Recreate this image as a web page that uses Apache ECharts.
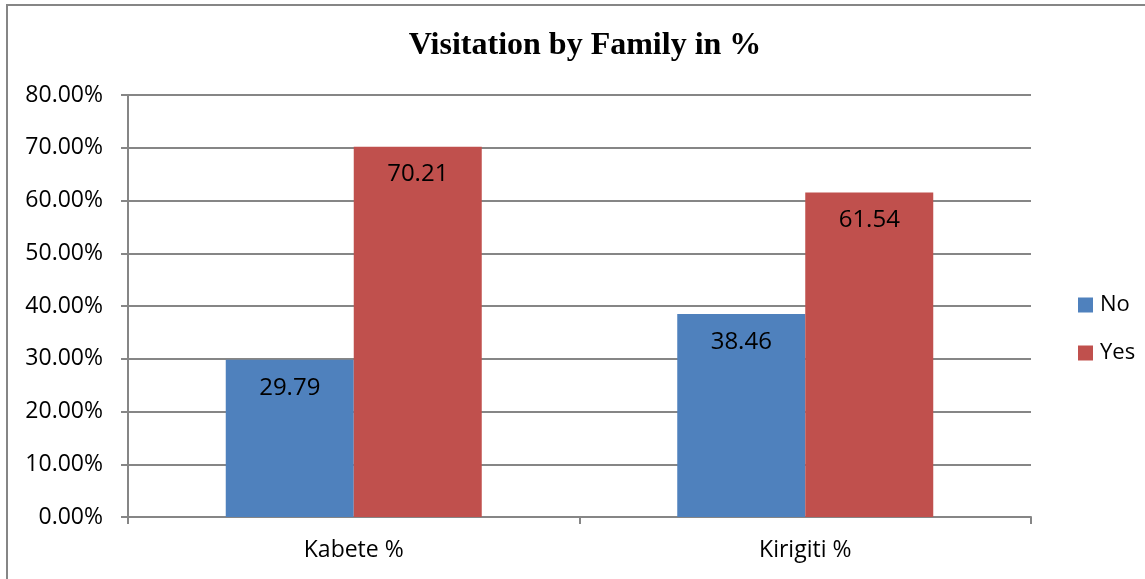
<!DOCTYPE html>
<html>
<head>
<meta charset="utf-8">
<script src="https://cdn.jsdelivr.net/npm/echarts@6/dist/echarts.min.js"></script>
<style>
  html, body { margin: 0; padding: 0; background: #fff; }
  #frame {
    position: absolute; left: 6px; top: 4px;
    width: 1160px; height: 590px;
    border: 2px solid #868686; box-sizing: border-box;
  }
  #chart { position: absolute; left: 0; top: 0; width: 1145px; height: 579px; }
</style>
</head>
<body>
<div id="frame"></div>
<div id="chart"></div>
<script>
const categories = ['Kabete %', 'Kirigiti %']
const noValues = [29.79, 38.46]
const yesValues = [70.21, 61.54]
const seriesNames = ['No', 'Yes']

const chart = echarts.init(document.getElementById('chart'))
const labelStyle = {
  show: true,
  position: 'insideTop',
  distance: 16,
  color: '#000',
  fontSize: 24,
  fontFamily: 'Open Sans',
  formatter: p => p.value.toFixed(2),
}

chart.setOption({
  animation: false,
  title: {
    text: 'Visitation by Family in %',
    left: 580,
    top: 25,
    textAlign: 'center',
    textStyle: { fontFamily: 'Liberation Serif', fontWeight: 'bold', fontSize: 32, color: '#000' },
  },
  legend: {
    orient: 'vertical',
    left: 1073,
    top: 289,
    itemWidth: 15,
    itemHeight: 15,
    itemGap: 26,
    icon: 'rect',
    textStyle: { fontFamily: 'Open Sans', fontSize: 22, color: '#000', padding: [0, 0, 0, 2] },
    data: seriesNames,
  },
  grid: { left: 128, right: 114, top: 95, bottom: 62 },
  xAxis: {
    type: 'category',
    data: categories,
    axisLine: { lineStyle: { color: '#868686', width: 2 } },
    axisTick: { show: true, length: 7, lineStyle: { color: '#868686', width: 2 } },
    axisLabel: { color: '#000', fontSize: 23, fontFamily: 'Open Sans', margin: 22 },
  },
  yAxis: {
    type: 'value',
    min: 0,
    max: 80,
    interval: 10,
    axisLine: { show: true, lineStyle: { color: '#868686', width: 2 } },
    axisTick: { show: true, length: 7, lineStyle: { color: '#868686', width: 2 } },
    splitLine: { lineStyle: { color: '#868686', width: 2 } },
    axisLabel: {
      color: '#000', fontSize: 23, fontFamily: 'Open Sans', margin: 25,
      formatter: v => v.toFixed(2) + '%',
    },
  },
  series: [
    {
      name: 'No', type: 'bar', data: noValues,
      barWidth: 128, barGap: '0%',
      itemStyle: { color: '#4f81bd' },
      label: labelStyle,
    },
    {
      name: 'Yes', type: 'bar', data: yesValues,
      barWidth: 128,
      itemStyle: { color: '#c0504d' },
      label: labelStyle,
    },
  ],
})
</script>
</body>
</html>
